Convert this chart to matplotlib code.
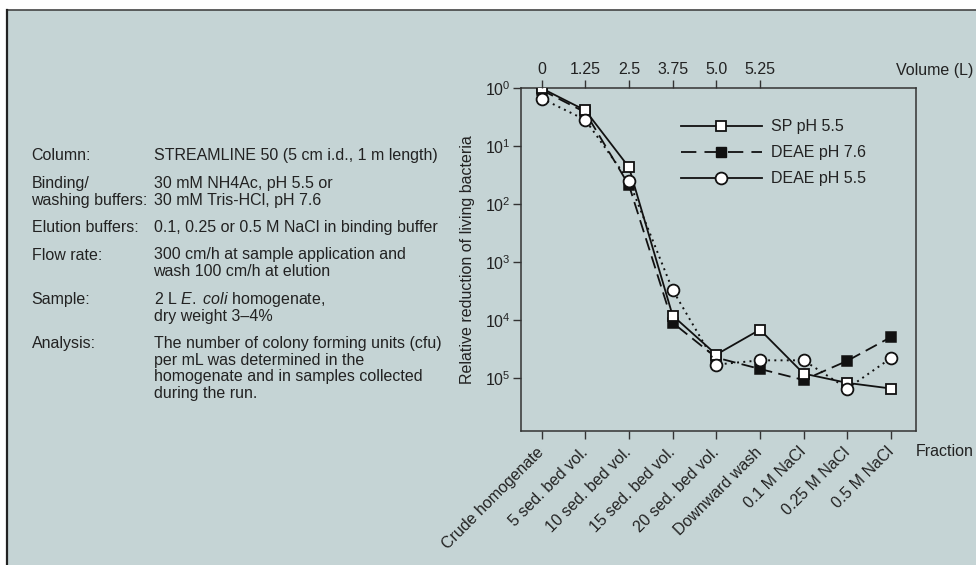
import matplotlib
matplotlib.use("Agg")
import matplotlib.pyplot as plt
from matplotlib.lines import Line2D
from matplotlib.patches import Rectangle
from matplotlib.transforms import ScaledTranslation

plt.rcParams["font.family"] = ["Liberation Sans", "DejaVu Sans"]
plt.rcParams["mathtext.fontset"] = "custom"
plt.rcParams["mathtext.rm"] = "Liberation Sans"
plt.rcParams["mathtext.it"] = "Liberation Sans:italic"

# ---- data ----
fractions = ["Crude homogenate", "5 sed. bed vol.", "10 sed. bed vol.",
             "15 sed. bed vol.", "20 sed. bed vol.", "Downward wash",
             "0.1 M NaCl", "0.25 M NaCl", "0.5 M NaCl"]
volume_labels = ["0", "1.25", "2.5", "3.75", "5.0", "5.25"]

# relative reduction of living bacteria (fold reduction of cfu/mL)
sp_ph55 = [1.0, 2.4, 23, 8.3e3, 3.9e4, 1.45e4, 8.3e4, 1.2e5, 1.5e5]
deae_ph76 = [1.07, 2.6, 47, 1.1e4, 4.4e4, 6.9e4, 1.07e5, 5.0e4, 1.95e4]
deae_ph55 = [1.5, 3.5, 40, 3.0e3, 5.8e4, 4.9e4, 4.9e4, 1.5e5, 4.5e4]

decades = [0, 1, 2, 3, 4, 5]

conditions = [
    (["Column:"], ["STREAMLINE 50 (5 cm i.d., 1 m length)"]),
    (["Binding/", "washing buffers:"], ["30 mM NH4Ac, pH 5.5 or", "30 mM Tris-HCl, pH 7.6"]),
    (["Elution buffers:"], ["0.1, 0.25 or 0.5 M NaCl in binding buffer"]),
    (["Flow rate:"], ["300 cm/h at sample application and", "wash 100 cm/h at elution"]),
    (["Sample:"], [r"2 L $\mathit{E.\ coli}$ homogenate,", "dry weight 3\u20134%"]),
    (["Analysis:"], ["The number of colony forming units (cfu)",
                     "per mL was determined in the",
                     "homogenate and in samples collected",
                     "during the run."]),
]

# ---- figure ----
W, H = 976, 565
BG = "#c5d4d5"
INK = "#222222"
FS = 11.5

fig = plt.figure(figsize=(W / 100, H / 100), dpi=100, facecolor="white")

def fx(px):
    return px / W

def fy(py):
    return 1 - py / H

# panel background with top and left rules
panel = Rectangle((fx(7), 0), 1 - fx(7), fy(10), transform=fig.transFigure,
                  facecolor=BG, edgecolor="none", zorder=-10)
fig.add_artist(panel)
fig.add_artist(Line2D([fx(7), 1], [fy(10), fy(10)], transform=fig.transFigure,
                      color="#444444", lw=1.2, zorder=-5))
fig.add_artist(Line2D([fx(7), fx(7)], [0, fy(10)], transform=fig.transFigure,
                      color="#222222", lw=1.6, zorder=-5))

# ---- conditions text block ----
LINE = 16.8
GAP = 27.4
y = 156
for label_lines, lines in conditions:
    for i, line in enumerate(label_lines):
        fig.text(fx(31.5), fy(y + i * LINE), line, ha="left", va="center",
                 fontsize=FS, color=INK)
    for i, line in enumerate(lines):
        fig.text(fx(153.5), fy(y + i * LINE), line, ha="left", va="center",
                 fontsize=FS, color=INK)
    n = max(len(lines), len(label_lines))
    y += (n - 1) * LINE + GAP

# ---- chart ----
left, right, top, bottom = 520.5, 916, 88.3, 430.5
ax = fig.add_axes([fx(left), fy(bottom), fx(right) - fx(left), (bottom - top) / H])
ax.set_facecolor("none")

x = list(range(len(fractions)))
ax.plot(x, deae_ph76, color="#111111", lw=1.3, ls=(0, (7, 3.5)), marker="s",
        ms=7.5, mfc="#111111", mec="#111111", mew=1.1, zorder=3)
ax.plot(x, sp_ph55, color="#111111", lw=1.3, ls="-", marker="s",
        ms=7.5, mfc="white", mec="#111111", mew=1.3, zorder=4)
ax.plot(x, deae_ph55, color="#111111", lw=1.4, ls=(0, (1, 2.2)), marker="o",
        ms=8.5, mfc="white", mec="#111111", mew=1.3, zorder=5)

ax.set_yscale("log")
ax.set_ylim(10 ** 5.9, 1)
ax.set_xlim(-0.485, 8.575)
ax.set_yticks([10.0 ** d for d in decades])
ax.set_yticklabels([rf"$10^{{{d}}}$" for d in decades])
ax.yaxis.set_minor_locator(matplotlib.ticker.NullLocator())

ax.set_xticks(x)
ax.set_xticklabels(fractions, rotation=45, ha="right", va="center",
                   rotation_mode="anchor")
offset = ScaledTranslation(5 / 100, 0, fig.dpi_scale_trans)
for lab in ax.get_xticklabels():
    lab.set_transform(lab.get_transform() + offset)

for s in ax.spines.values():
    s.set_color("#333333")
    s.set_linewidth(1.1)

ax.tick_params(axis="both", direction="out", length=5.8, width=1.0,
               color="#333333", labelsize=FS, labelcolor=INK)
ax.tick_params(axis="x", pad=8)
ax.tick_params(axis="y", pad=1.5)
ax.set_ylabel("Relative reduction of living bacteria", fontsize=FS, color=INK,
              labelpad=7)

# volume scale along the top
axt = ax.twiny()
axt.set_xlim(ax.get_xlim())
axt.set_xticks(x[:len(volume_labels)])
axt.set_xticklabels(volume_labels)
axt.tick_params(axis="x", direction="out", length=5.8, width=1.0,
                color="#333333", labelsize=FS, labelcolor=INK, pad=2)
for s in axt.spines.values():
    s.set_visible(False)

fig.text(fx(896), fy(70), "Volume (L)", ha="left", va="center", fontsize=FS, color=INK)
fig.text(fx(916), fy(452), "Fraction", ha="left", va="center", fontsize=FS, color=INK)

handles = [
    Line2D([], [], color="#111111", lw=1.3, ls="-", marker="s", ms=7.5,
           mfc="white", mec="#111111", mew=1.3),
    Line2D([], [], color="#111111", lw=1.3, ls=(0, (8.5, 4.5)), marker="s", ms=7.5,
           mfc="#111111", mec="#111111"),
    Line2D([], [], color="#111111", lw=1.3, ls="-", marker="o", ms=8.5,
           mfc="white", mec="#111111", mew=1.3),
]
ax.legend(handles, ["SP pH 5.5", "DEAE pH 7.6", "DEAE pH 5.5"], loc="upper left",
          bbox_to_anchor=(0.405, 0.91), frameon=False, fontsize=FS,
          handlelength=5.1, handletextpad=0.55, labelspacing=0.69,
          borderpad=0, borderaxespad=0, labelcolor=INK)

fig.savefig("out.png", dpi=100, facecolor=fig.get_facecolor())
